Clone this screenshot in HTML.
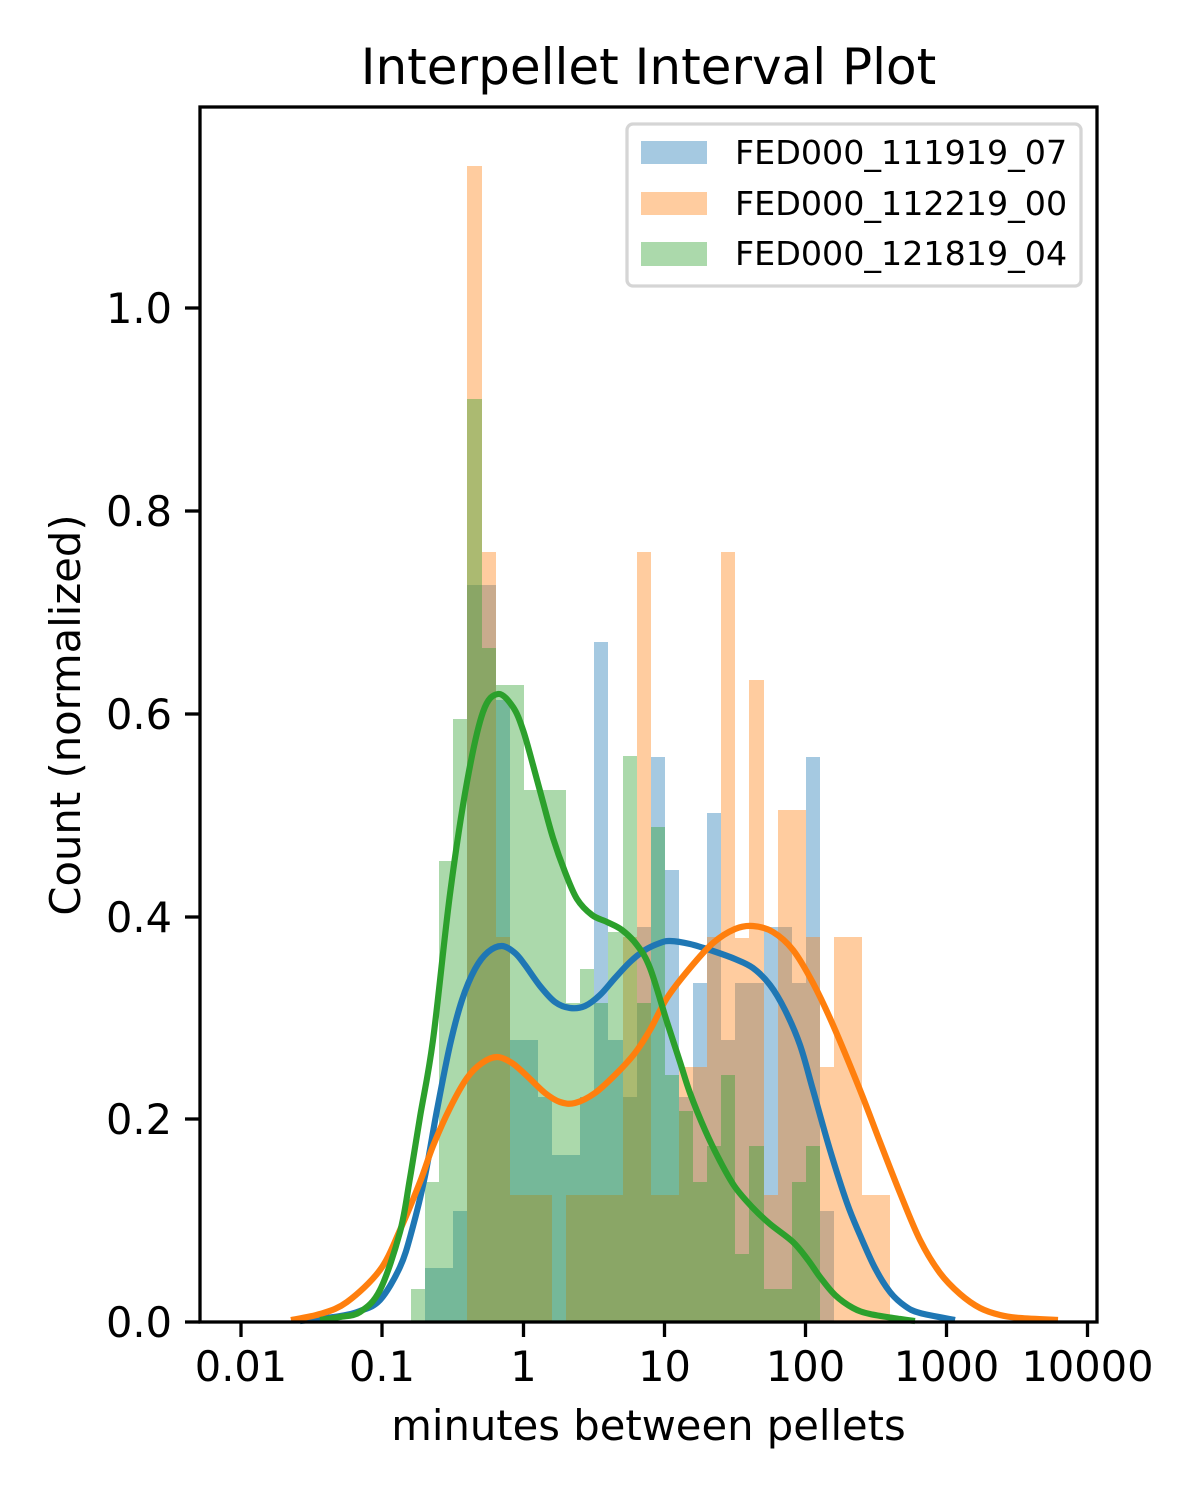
<!DOCTYPE html>
<html><head><meta charset="utf-8"><style>
html,body{margin:0;padding:0;background:#fff;}
svg{display:block;}
text{font-family:"DejaVu Sans","Liberation Sans",sans-serif;fill:#000;}
</style></head><body>
<svg id="s" width="1200" height="1500" viewBox="0 0 1200 1500" xmlns="http://www.w3.org/2000/svg">
<rect width="1200" height="1500" fill="#fff"/>
<g id="bars" shape-rendering="crispEdges"></g>
<g id="lines" fill="none" stroke-width="6.2" stroke-linejoin="round" stroke-linecap="butt"></g>
<rect x="200" y="107" width="897" height="1215" fill="none" stroke="#000" stroke-width="3.3"/>
<g stroke="#000" stroke-width="3.3">
<line x1="241" y1="1322" x2="241" y2="1337"/><line x1="382" y1="1322" x2="382" y2="1337"/>
<line x1="523.5" y1="1322" x2="523.5" y2="1337"/><line x1="664.5" y1="1322" x2="664.5" y2="1337"/>
<line x1="805.5" y1="1322" x2="805.5" y2="1337"/><line x1="946.5" y1="1322" x2="946.5" y2="1337"/>
<line x1="1087.5" y1="1322" x2="1087.5" y2="1337"/>
<line x1="185" y1="1322" x2="200" y2="1322"/><line x1="185" y1="1119" x2="200" y2="1119"/>
<line x1="185" y1="917" x2="200" y2="917"/><line x1="185" y1="714" x2="200" y2="714"/>
<line x1="185" y1="511" x2="200" y2="511"/><line x1="185" y1="308" x2="200" y2="308"/>
</g>
<g font-size="41.5" text-anchor="middle">
<text x="241" y="1381">0.01</text><text x="382" y="1381">0.1</text><text x="523.5" y="1381">1</text>
<text x="664.5" y="1381">10</text><text x="805.5" y="1381">100</text><text x="946.5" y="1381">1000</text>
<text x="1087.5" y="1381">10000</text>
</g>
<g font-size="41.5" text-anchor="end">
<text x="172" y="1337">0.0</text><text x="172" y="1134">0.2</text><text x="172" y="932">0.4</text>
<text x="172" y="729">0.6</text><text x="172" y="526">0.8</text><text x="172" y="323">1.0</text>
</g>
<text x="648.5" y="1440" font-size="41.7" text-anchor="middle">minutes between pellets</text>
<text transform="translate(80,715) rotate(-90)" font-size="41.7" text-anchor="middle">Count (normalized)</text>
<text x="648.5" y="84" font-size="50" text-anchor="middle">Interpellet Interval Plot</text>
<rect x="627" y="124" width="454" height="162" rx="6" fill="#fff" fill-opacity="0.8" stroke="#d5d5d5" stroke-width="3.3"/>
<rect x="641" y="141" width="66" height="23" fill="#1f77b4" fill-opacity="0.4"/>
<rect x="641" y="192" width="66" height="23" fill="#ff7f0e" fill-opacity="0.4"/>
<rect x="641" y="242" width="66" height="24" fill="#2ca02c" fill-opacity="0.4"/>
<g font-size="33.3">
<text x="735" y="164">FED000_111919_07</text>
<text x="735" y="215">FED000_112219_00</text>
<text x="735" y="265">FED000_121819_04</text>
</g>
</svg>
<script>
var N=null;
var blue=[N,1268,1268,1211,585,585,700,1040,1040,1097,1155,1155,1097,642,1040,1097,927,757,870,1097,983,813,1040,983,983,927,927,983,757,1211,N,N,N,N];
var orange=[N,N,N,N,166,552,937,1195,1195,1195,N,1195,1195,1195,1195,937,552,1195,1195,1067,1067,937,552,938,680,1195,810,810,937,1067,937,937,1195,1195];
var green=[1289,1182,861,719,399,648,685,685,790,790,790,1003,969,1003,932,756,1003,827,1075,1111,1182,1146,1075,1254,1146,1289,1289,1182,1146,N,N,N,N,N];
var g=document.getElementById('bars'),ns='http://www.w3.org/2000/svg';
function add(arr,col){for(var k=0;k<arr.length;k++){if(arr[k]==null)continue;var x0=Math.round(411+14.1*k),x1=Math.round(411+14.1*(k+1));var r=document.createElementNS(ns,'rect');r.setAttribute('x',x0);r.setAttribute('y',arr[k]);r.setAttribute('width',x1-x0);r.setAttribute('height',1322-arr[k]);r.setAttribute('fill',col);r.setAttribute('fill-opacity','0.4');g.appendChild(r);}}
add(blue,'#1f77b4');add(orange,'#ff7f0e');add(green,'#2ca02c');
var L={
'#1f77b4':[300,1321,340,1316,360,1311,380,1300,400,1267,412,1230,425,1176,437,1110,450,1045,462,1000,475,969,488,952,502,946,515,953,525,965,540,986,555,1002,570,1008,585,1006,600,995,615,978,630,962,645,950,660,943,670,941,690,944,713,951,735,959,753,968,770,985,785,1010,800,1045,813,1090,830,1150,847,1203,860,1235,875,1268,890,1292,905,1306,920,1313,955,1320],
'#ff7f0e':[291,1320,320,1314,347,1302,380,1270,400,1230,420,1182,433,1146,450,1108,467,1078,482,1063,497,1057,512,1063,527,1076,545,1093,560,1102,575,1103,595,1093,617,1073,635,1053,650,1030,667,998,690,968,713,943,735,929,753,926,773,932,793,950,813,983,833,1025,860,1090,880,1142,900,1193,920,1240,940,1273,960,1294,980,1308,1000,1315,1020,1318,1058,1320],
'#2ca02c':[320,1320,340,1317,360,1312,380,1290,400,1232,410,1178,420,1117,433,1040,450,894,467,782,483,712,498,694,513,707,523,730,533,765,543,802,553,838,565,872,577,899,592,915,607,922,622,930,637,945,650,968,667,1022,680,1062,690,1093,705,1130,720,1161,735,1187,753,1208,770,1224,793,1242,808,1260,820,1277,835,1295,853,1308,870,1314,900,1319,915,1321]};
var lg=document.getElementById('lines');
for(var c in L){var a=L[c],P=[];for(var i=0;i<a.length;i+=2)P.push([a[i],a[i+1]]);
var d='M'+P[0][0]+','+P[0][1];
for(var i=0;i<P.length-1;i++){var p0=P[Math.max(i-1,0)],p1=P[i],p2=P[i+1],p3=P[Math.min(i+2,P.length-1)];
var c1x=p1[0]+(p2[0]-p0[0])/6,c1y=p1[1]+(p2[1]-p0[1])/6,c2x=p2[0]-(p3[0]-p1[0])/6,c2y=p2[1]-(p3[1]-p1[1])/6;
d+=' C'+c1x+','+c1y+' '+c2x+','+c2y+' '+p2[0]+','+p2[1];}
var p=document.createElementNS(ns,'path');p.setAttribute('d',d);p.setAttribute('stroke',c);lg.appendChild(p);}
</script>
</body></html>
